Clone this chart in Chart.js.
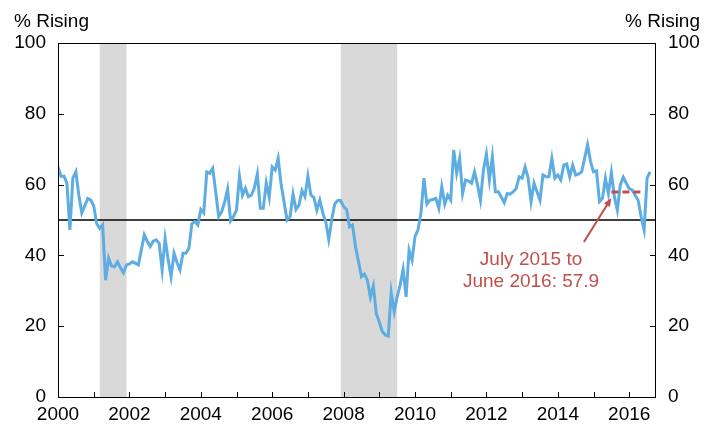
<!DOCTYPE html>
<html>
<head>
<meta charset="utf-8">
<script src="https://cdn.jsdelivr.net/npm/chart.js@4.4.0/dist/chart.umd.min.js"></script>
<style>
  body { margin: 0; background: #fff; }
  canvas { display: block; }
</style>
</head>
<body>
<canvas id="chart" width="706" height="430"></canvas>
<script>
// monthly share of items rising (%), Jan 2000 onwards
const startYear = 2000;
const pctRising = [
  65, 62.3, 62.4, 60.4, 47.2, 61.8, 63.6, 57, 52, 54, 56.1, 55.6,          // 2000
  54, 49, 47.6, 48.6, 33, 39.2, 37, 36.8, 38.2, 36.5, 35.1, 37.3,          // 2001
  37.6, 38.2, 37.8, 37.3, 41.5, 45.8, 44, 42.5, 44, 44.4, 43.4, 35.9,      // 2002
  44.8, 39, 34, 40.6, 38, 35.9, 40.6, 40.6, 42, 49, 49.5, 48.6,            // 2003
  53, 52, 63.6, 63.2, 64.6, 58, 51, 52.3, 55, 58.7, 49.8, 51,              // 2004
  52.8, 62.4, 57, 59, 56.6, 57, 59, 63, 53.3, 53.3, 60.5, 56.4,            // 2005
  65, 64.1, 67.4, 60, 55, 50, 50.9, 57.3, 53, 54.2, 58.3, 56.6,            // 2006
  62.4, 57, 56.4, 52.8, 55.6, 52, 49.5, 44.5, 50, 54.5, 55.5, 55.5,        // 2007
  53.8, 53, 48.1, 48.6, 42.5, 38.2, 34, 34.7, 33, 28.2, 31.4, 23.5,        // 2008
  21.2, 18.5, 17.5, 17.2, 29.5, 24.1, 28.3, 31.6, 36.1, 28.3, 41.5, 38.7,  // 2009
  45.3, 47.2, 51.9, 61.8, 54.5, 55.6, 55.8, 56.1, 53.3, 59.4, 54.5, 57,    // 2010
  55.6, 69.8, 63.2, 67.4, 57.5, 61.3, 61, 60.4, 63.6, 60, 55.6, 64.1,      // 2011
  68.6, 61.3, 67.9, 58, 58, 56.5, 54.9, 57.5, 57.3, 58, 58.9, 62.2,        // 2012
  61.8, 65, 62, 55.2, 60.4, 58, 55.6, 62.7, 62.2, 62.2, 67.4, 61.8,        // 2013
  62.7, 61.3, 65.5, 65.8, 62.2, 65.5, 62.7, 63, 63.6, 67.4, 71.2, 66.5,    // 2014
  63.6, 63.9, 55.2, 56.1, 61.8, 57.5, 63.4, 56.6, 52.8, 59.9, 62.1, 60.4,  // 2015
  58.9, 58.5, 57, 55.6, 50.9, 47.2, 61.8, 63.6                             // 2016
];

const recessions = [[2001.17, 2001.92], [2007.92, 2009.5]];
const threshold = 50;
const avgPeriod = [2015.5, 2016.42];
const avgValue = 57.9;
const avgLabel = ['July 2015 to', 'June 2016: 57.9'];
const yTicks = [0, 20, 40, 60, 80, 100];
const axisTitle = '% Rising';

const red = '#C0504D';
const font = { family: 'Arial, "Liberation Sans", sans-serif', size: 19 };

const linePoints = pctRising.map((v, i) => ({ x: startYear + i / 12, y: v }));

const decor = {
  id: 'decor',
  beforeDatasetsDraw(chart) {
    const { ctx, chartArea: a, scales: { x } } = chart;
    ctx.save();
    ctx.fillStyle = '#D9D9D9';
    recessions.forEach(r => {
      const x0 = x.getPixelForValue(r[0]), x1 = x.getPixelForValue(r[1]);
      ctx.fillRect(x0, a.top, x1 - x0, a.bottom - a.top);
    });
    ctx.restore();
  },
  afterDraw(chart) {
    const { ctx, chartArea: a, scales: { x, y } } = chart;
    ctx.save();
    // frame
    ctx.strokeStyle = '#000';
    ctx.lineWidth = 1;
    ctx.strokeRect(Math.round(a.left) + 0.5, Math.round(a.top) + 0.5,
      Math.round(a.right - a.left) - 1, Math.round(a.bottom - a.top));
    // inward tick marks
    ctx.beginPath();
    x.ticks.forEach(t => {
      const px = Math.round(x.getPixelForValue(t.value)) + 0.5;
      ctx.moveTo(px, a.bottom); ctx.lineTo(px, a.bottom - 5);
    });
    yTicks.forEach(v => {
      const py = Math.round(y.getPixelForValue(v)) + 0.5;
      ctx.moveTo(a.left, py); ctx.lineTo(a.left + 6, py);
      ctx.moveTo(a.right, py); ctx.lineTo(a.right - 6, py);
    });
    ctx.stroke();

    // axis titles
    ctx.fillStyle = '#000';
    ctx.font = font.size + 'px ' + font.family;
    ctx.textBaseline = 'alphabetic';
    ctx.textAlign = 'left';
    ctx.fillText(axisTitle, 14, 27);
    ctx.textAlign = 'right';
    ctx.fillText(axisTitle, 700, 27);

    // annotation
    ctx.fillStyle = red;
    ctx.textAlign = 'center';
    const tx = x.getPixelForValue(2013.25);
    ctx.fillText(avgLabel[0], tx, y.getPixelForValue(37.3));
    ctx.fillText(avgLabel[1], tx, y.getPixelForValue(31.1));

    const x0 = x.getPixelForValue(2014.73), y0 = y.getPixelForValue(43.8);
    const x1 = x.getPixelForValue(2015.5), y1 = y.getPixelForValue(56.2);
    const ang = Math.atan2(y1 - y0, x1 - x0);
    const hl = 9;
    ctx.strokeStyle = red;
    ctx.lineWidth = 2;
    ctx.beginPath();
    ctx.moveTo(x0, y0);
    ctx.lineTo(x1 - Math.cos(ang) * 6, y1 - Math.sin(ang) * 6);
    ctx.stroke();
    ctx.beginPath();
    ctx.moveTo(x1, y1);
    ctx.lineTo(x1 - hl * Math.cos(ang - 0.4), y1 - hl * Math.sin(ang - 0.4));
    ctx.lineTo(x1 - hl * Math.cos(ang + 0.4), y1 - hl * Math.sin(ang + 0.4));
    ctx.closePath();
    ctx.fill();
    ctx.restore();
  }
};

new Chart(document.getElementById('chart'), {
  type: 'line',
  data: {
    datasets: [
      {
        data: avgPeriod.map(v => ({ x: v, y: avgValue })),
        borderColor: red, borderWidth: 3, borderDash: [7, 4],
        pointRadius: 0, order: 0
      },
      {
        data: linePoints,
        borderColor: 'rgb(93,173,226)', borderWidth: 3,
        pointRadius: 0, tension: 0, order: 1
      },
      {
        data: [{ x: startYear, y: threshold }, { x: 2016.75, y: threshold }],
        borderColor: '#000', borderWidth: 1.5,
        pointRadius: 0, order: 2
      }
    ]
  },
  options: {
    responsive: false,
    animation: false,
    devicePixelRatio: 1,
    layout: { padding: { top: 43, left: 0, right: 0, bottom: 0 } },
    plugins: { legend: { display: false }, tooltip: { enabled: false } },
    scales: {
      x: {
        type: 'linear', min: 2000, max: 2016.75,
        grid: { display: false, drawTicks: false },
        border: { display: false },
        ticks: {
          stepSize: 1, includeBounds: false, autoSkip: false, maxRotation: 0,
          padding: 6, color: '#000', font,
          callback: v => (v % 2 === 0 ? String(v) : '')
        },
        afterFit: s => { s.height = 33; }
      },
      y: {
        position: 'left', min: 0, max: 100,
        grid: { display: false, drawTicks: false },
        border: { display: false },
        ticks: { stepSize: 20, padding: 12, color: '#000', font },
        afterFit: s => { s.width = 58; }
      },
      y2: {
        position: 'right', min: 0, max: 100,
        grid: { display: false, drawTicks: false },
        border: { display: false },
        ticks: { stepSize: 20, padding: 12, color: '#000', font },
        afterFit: s => { s.width = 50; }
      }
    }
  },
  plugins: [decor]
});
</script>
</body>
</html>
